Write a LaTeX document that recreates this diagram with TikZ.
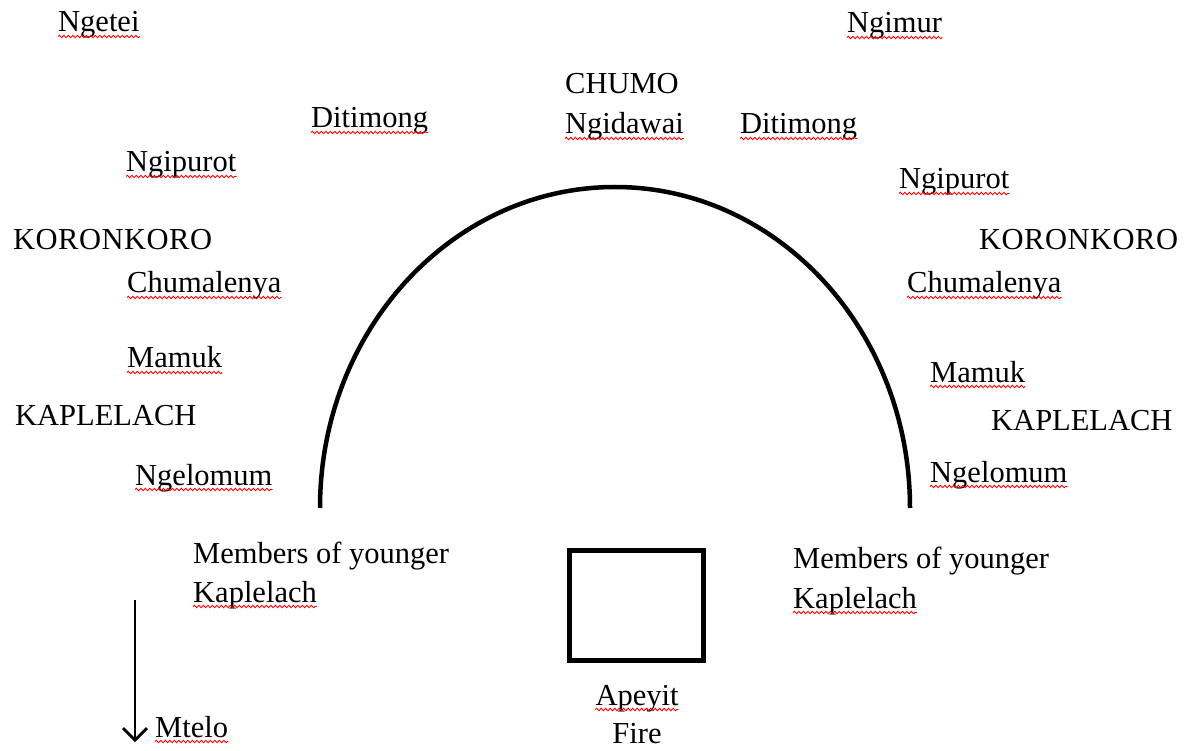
\documentclass[tikz,border=0pt]{standalone}
\usepackage{fontspec}
\setmainfont{Liberation Serif}
\usetikzlibrary{arrows.meta,decorations.pathmorphing}
\tikzset{
  lbl/.style={anchor=base west,inner sep=0pt,font=\fontsize{30.5}{36}\selectfont},
  lblc/.style={anchor=base,inner sep=0pt,font=\fontsize{30.5}{36}\selectfont},
  squiggle/.style={red,line width=0.9pt,decorate,decoration={snake,amplitude=1.2pt,segment length=4.5pt}},
  thickline/.style={line width=4.5pt},
}
\newcommand{\squig}[1]{\draw[squiggle] ([yshift=-4.5pt]#1.base west) -- ([yshift=-4.5pt]#1.base east);}
\begin{document}
\begin{tikzpicture}[x=1pt,y=-1pt]
\useasboundingbox (0,0) rectangle (1192,751);
% labels
\node[lbl] (ngetei) at (58,32) {Ngetei};
\node[lbl] (ngimur) at (847,33) {Ngimur};
\node[lbl] (chumo) at (565,94) {CHUMO};
\node[lbl] (ngidawai) at (565,134) {Ngidawai};
\node[lbl] (ditl) at (311,128) {Ditimong};
\node[lbl] (ditr) at (740,134) {Ditimong};
\node[lbl] (ngipl) at (126,172) {Ngipurot};
\node[lbl] (ngipr) at (899,189) {Ngipurot};
\node[lbl] (korl) at (13,250) {K\kern0.5pt O\kern0.5pt R\kern0.5pt O\kern0.5pt N\kern0.5pt K\kern0.5pt O\kern0.5pt R\kern0.5pt O};
\node[lbl] (korr) at (979,250) {K\kern0.5pt O\kern0.5pt R\kern0.5pt O\kern0.5pt N\kern0.5pt K\kern0.5pt O\kern0.5pt R\kern0.5pt O};
\node[lbl] (chul) at (127,293) {Chumalenya};
\node[lbl] (chur) at (907,293) {Chumalenya};
\node[lbl] (maml) at (127,368) {Mamuk};
\node[lbl] (mamr) at (930,382) {Mamuk};
\node[lbl] (kapl) at (15,425) {KAPLELACH};
\node[lbl] (kapr) at (991,430) {KAPLELACH};
\node[lbl] (ngell) at (135,485) {Ngelomum};
\node[lbl] (ngelr) at (930,482) {Ngelomum};
\node[lbl] (meml) at (193,563) {Members of younger};
\node[lbl] (kpll) at (193,602) {Kaplelach};
\node[lbl] (memr) at (793,568) {Members of younger};
\node[lbl] (kplr) at (793,608) {Kaplelach};
\node[lblc] (apeyit) at (637,705) {Apeyit};
\node[lblc] (fire) at (637,743) {Fire};
\node[lbl] (mtelo) at (155,737) {Mtelo};
% squiggly underlines
\foreach \n in {ngetei,ngimur,ngidawai,ditl,ditr,ngipl,ngipr,chul,chur,maml,mamr,ngell,ngelr,kpll,kplr,apeyit,mtelo}{\squig{\n}}
% arc
\draw[thickline] (320,508) arc[start angle=180,end angle=0,x radius=295,y radius=-321];
% fire box
\node[draw,line width=5pt,minimum width=134pt,minimum height=110pt,inner sep=0pt] (box) at (636.5,605) {};
% arrow
\coordinate (a1) at (135,600);
\coordinate (a2) at (135,742);
\draw[line width=2.8pt,-{Straight Barb[length=12pt,width=24pt,line width=2.8pt]}] (a1) -- (a2);
\end{tikzpicture}
\end{document}
